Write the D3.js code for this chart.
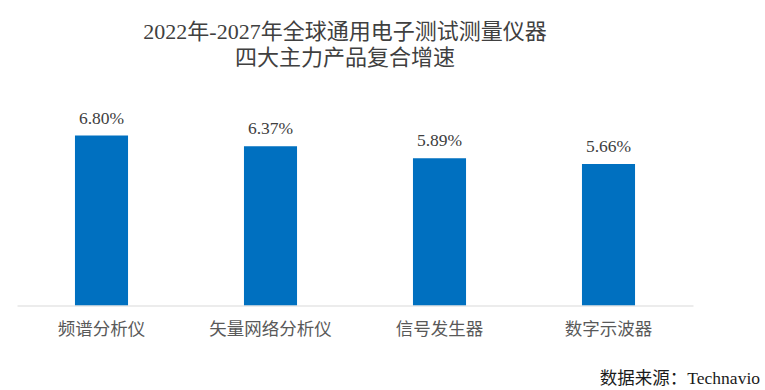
<!DOCTYPE html>
<html>
<head>
<meta charset="utf-8">
<script src="https://cdn.jsdelivr.net/npm/d3@7"></script>
<style>
  body { margin: 0; background: #fff; }
</style>
</head>
<body>
<svg id="chart" width="765" height="390"></svg>
<script>
const categories = ["频谱分析仪", "矢量网络分析仪", "信号发生器", "数字示波器"];
const growth = [6.80, 6.37, 5.89, 5.66];
const titleLines = ["2022年-2027年全球通用电子测试测量仪器", "四大主力产品复合增速"];
const sourceText = "数据来源：Technavio";

const svg = d3.select("#chart"),
  width = +svg.attr("width"),
  height = +svg.attr("height");

const serif = "'Liberation Serif', 'Times New Roman', 'Noto Sans CJK SC', serif";
const sans = "'Noto Sans CJK SC', 'Noto Sans', sans-serif";

// band scale across plot area
const x = d3.scaleBand()
  .domain(categories)
  .range([17, 693])
  .paddingInner(0.686)
  .paddingOuter(0.343);

const y = d3.scaleLinear()
  .domain([0, 6.8])
  .range([305.5, 135.5]);

// title
svg.append("g")
  .selectAll("text")
  .data(titleLines)
  .enter()
  .append("text")
  .attr("x", 345)
  .attr("y", (d, i) => 39 + i * 26)
  .attr("text-anchor", "middle")
  .style("font-family", serif)
  .style("font-size", "22px")
  .style("fill", "#404040")
  .text(d => d);

// bars
svg.append("g")
  .selectAll("rect")
  .data(growth)
  .enter()
  .append("rect")
  .attr("x", (d, i) => x(categories[i]))
  .attr("y", d => y(d))
  .attr("width", x.bandwidth())
  .attr("height", d => y(0) - y(d))
  .attr("fill", "#0070C0");

// value labels
svg.append("g")
  .selectAll("text")
  .data(growth)
  .enter()
  .append("text")
  .attr("x", (d, i) => x(categories[i]) + x.bandwidth() / 2)
  .attr("y", d => y(d) - 12)
  .attr("text-anchor", "middle")
  .style("font-family", serif)
  .style("font-size", "17.5px")
  .style("fill", "#404040")
  .text(d => d.toFixed(2) + "%");

// x axis
const xAxis = svg.append("g")
  .attr("transform", `translate(0,${y(0)})`)
  .call(d3.axisBottom(x).tickSize(0).tickPadding(17));

xAxis.select(".domain").attr("stroke", "#d9d9d9").attr("stroke-width", 1.2);
xAxis.selectAll("text")
  .style("font-family", sans)
  .style("font-size", "17.5px")
  .style("fill", "#595959");

// source note
svg.append("text")
  .attr("x", 760)
  .attr("y", 384)
  .attr("text-anchor", "end")
  .style("font-family", serif)
  .style("font-size", "17.5px")
  .style("fill", "#1a1a1a")
  .text(sourceText);
</script>
</body>
</html>
